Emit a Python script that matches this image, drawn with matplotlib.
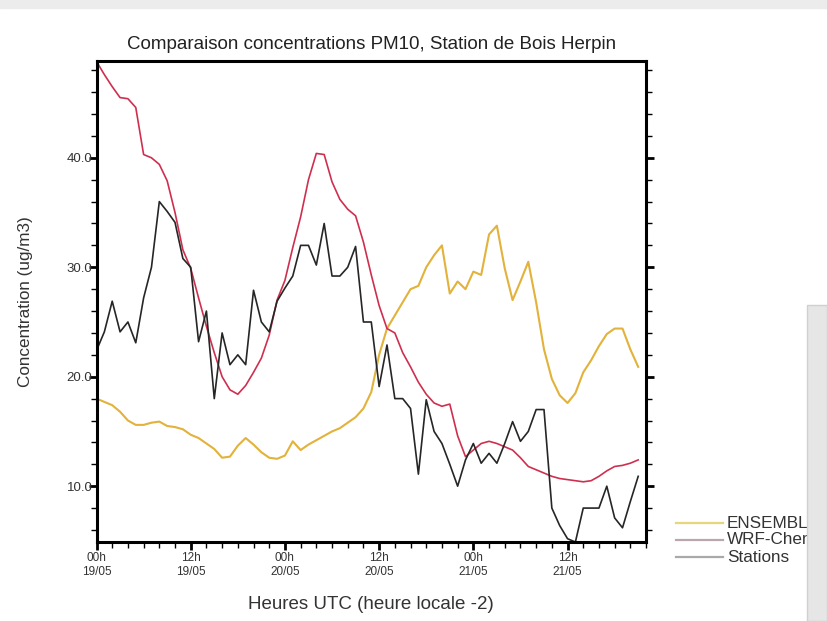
import numpy as np
import matplotlib
matplotlib.use("Agg")
from matplotlib import pyplot as plt
from matplotlib.lines import Line2D
from matplotlib.patches import Rectangle
from matplotlib.ticker import MultipleLocator

plt.rcParams['font.family'] = ['Liberation Sans', 'DejaVu Sans']

# hourly values from 00h 19/05 (UTC)
hours = np.arange(70)

ensemble = [18.0, 17.7, 17.4, 16.8, 16.0, 15.6, 15.6, 15.8, 15.9, 15.5,
            15.4, 15.2, 14.7, 14.4, 13.9, 13.4, 12.6, 12.7, 13.7, 14.4,
            13.8, 13.1, 12.6, 12.5, 12.8, 14.1, 13.3, 13.8, 14.2, 14.6,
            15.0, 15.3, 15.8, 16.3, 17.1, 18.6, 22.0, 24.4, 25.6, 26.8,
            28.0, 28.3, 30.0, 31.1, 32.0, 27.6, 28.7, 28.0, 29.6, 29.3,
            33.0, 33.8, 29.9, 27.0, 28.7, 30.5, 26.8, 22.5, 19.8, 18.3,
            17.6, 18.5, 20.4, 21.5, 22.8, 23.9, 24.4, 24.4, 22.5, 20.9]

wrf_chem = [48.8, 47.6, 46.5, 45.5, 45.4, 44.6, 40.3, 40.0, 39.4, 37.9,
            35.0, 31.6, 29.9, 27.2, 24.6, 22.2, 20.0, 18.8, 18.4, 19.2,
            20.4, 21.7, 23.8, 27.0, 28.8, 31.8, 34.6, 38.0, 40.4, 40.3,
            37.8, 36.2, 35.3, 34.7, 32.3, 29.3, 26.5, 24.4, 24.0, 22.2,
            20.9, 19.5, 18.4, 17.6, 17.3, 17.5, 14.6, 12.7, 13.3, 13.9,
            14.1, 13.9, 13.6, 13.3, 12.6, 11.8, 11.5, 11.2, 10.9, 10.7,
            10.6, 10.5, 10.4, 10.5, 10.9, 11.4, 11.8, 11.9, 12.1, 12.4]

stations = [22.4, 24.1, 26.9, 24.1, 25.0, 23.1, 27.2, 30.0, 36.0, 35.1,
            34.1, 30.8, 30.0, 23.2, 26.0, 18.0, 24.0, 21.1, 22.0, 21.1,
            27.9, 25.0, 24.1, 26.9, 28.1, 29.2, 32.0, 32.0, 30.2, 34.0,
            29.2, 29.2, 30.0, 31.9, 25.0, 25.0, 19.1, 22.9, 18.0, 18.0,
            17.1, 11.1, 17.9, 15.0, 13.9, 12.0, 10.0, 12.4, 13.9, 12.1,
            13.0, 12.1, 13.9, 15.9, 14.1, 15.0, 17.0, 17.0, 8.0, 6.4,
            5.2, 4.9, 8.0, 8.0, 8.0, 10.0, 7.1, 6.2, 8.6, 10.9]

tick_hours = [0, 12, 24, 36, 48, 60]
tick_labels = ['00h\n19/05', '12h\n19/05', '00h\n20/05',
               '12h\n20/05', '00h\n21/05', '12h\n21/05']
series_names = ['ENSEMBLE', 'WRF-Chem', 'Stations']
colors = ['#e2b23a', '#cf2f4f', '#262626']
key_colors = ['#e8d77a', '#b9a7ab', '#a9a9a9']

fig = plt.figure(figsize=(8.27, 6.21), dpi=100)
ax = fig.add_axes([0.1167, 0.1272, 0.6645, 0.7738])

ax.plot(hours, ensemble, color=colors[0], lw=1.5)
ax.plot(hours, wrf_chem, color=colors[1], lw=1.2)
ax.plot(hours, stations, color=colors[2], lw=1.2)

allv = ensemble + wrf_chem + stations
ax.set_xlim(0, 70)
ax.set_ylim(min(allv), max(allv))

ax.set_xticks(tick_hours)
ax.set_xticklabels(tick_labels, fontsize=8.5, color='#333333', linespacing=1.25)
ax.xaxis.set_minor_locator(MultipleLocator(2))
ax.set_yticks([10, 20, 30, 40])
ax.set_yticklabels(['10.0', '20.0', '30.0', '40.0'], fontsize=9.5, color='#333333')
ax.yaxis.set_minor_locator(MultipleLocator(2))
ax.tick_params(which='major', direction='out', length=6, width=2,
               left=True, right=True, bottom=True, top=False)
ax.tick_params(axis='x', which='major', pad=1)
ax.tick_params(axis='y', which='major', pad=-3)
ax.tick_params(which='minor', direction='out', length=4, width=1,
               left=True, right=True, bottom=True, top=False)
for s in ax.spines.values():
    s.set_linewidth(2.2)

ax.set_title('Comparaison concentrations PM10, Station de Bois Herpin',
             fontsize=13.5, color='#222222', pad=9)
ax.set_xlabel('Heures UTC (heure locale -2)', fontsize=13.5, color='#333333', labelpad=13)
ax.set_ylabel('Concentration (ug/m3)', fontsize=12.3, color='#333333', labelpad=24)

# legend keys placed as in the original figure
W, H = 827.0, 621.0
for i, (name, kc) in enumerate(zip(series_names, key_colors)):
    yy = 1 - (523 + 17 * i) / H
    fig.add_artist(Line2D([676 / W, 723 / W], [yy, yy], color=kc, lw=1.6))
    fig.text(727 / W, yy, name, fontsize=12.3, color='#333333', va='center')

# screenshot edges
fig.add_artist(Rectangle((0, 1 - 8 / H), 1, 8 / H, color='#ececec', zorder=5))
fig.add_artist(Rectangle((807 / W, 0), 20 / W, 1 - 305 / H,
                         facecolor='#e6e6e6', edgecolor='#d0d0d0', lw=1, zorder=5))

fig.savefig('out.png', dpi=100)
